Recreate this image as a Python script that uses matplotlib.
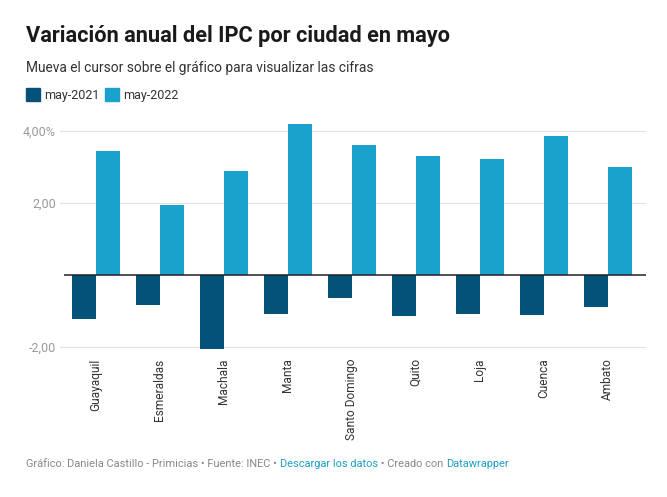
import matplotlib
matplotlib.use("Agg")
import matplotlib.pyplot as plt
from matplotlib.patches import Rectangle
import numpy as np

plt.rcParams['font.family'] = ['Roboto', 'DejaVu Sans']

cities = ["Guayaquil", "Esmeraldas", "Machala", "Manta", "Santo Domingo",
          "Quito", "Loja", "Cuenca", "Ambato"]
may_2021 = [-1.21, -0.82, -2.05, -1.07, -0.63, -1.14, -1.07, -1.10, -0.88]
may_2022 = [3.44, 1.94, 2.89, 4.19, 3.61, 3.31, 3.22, 3.86, 3.00]
yticks = [-2, 2, 4]
ytick_labels = ["-2,00", "2,00", "4,00%"]

dark = "#04527a"
light = "#1ba2cc"

W, H = 667, 497
fig = plt.figure(figsize=(W / 100, H / 100), dpi=100)
fig.patch.set_facecolor("white")

# axes box in pixels: x 60..646, y 120..350
ax = fig.add_axes([60 / W, 1 - 350 / H, 586 / W, 230 / H])

x = np.arange(len(cities))
bw = 0.375
ax.bar(x - bw / 2, may_2021, width=bw, color=dark, zorder=3)
ax.bar(x + bw / 2, may_2022, width=bw, color=light, zorder=3)

ax.set_xlim(-0.56, 8.6)
ax.set_ylim(-2.083, 4.306)

for t in yticks:
    ax.axhline(t, color="#e3e3e3", lw=0.9, zorder=1)
ax.hlines(0, -0.5, 8.6, color="#222222", lw=1.1, zorder=4)

ax.set_yticks(yticks)
ax.set_yticklabels(ytick_labels)
ax.tick_params(axis="y", length=0, pad=3, labelsize=9, labelcolor="#9a9a9a")

ax.set_xticks(x)
ax.set_xticklabels(cities, rotation=90, va="top", ha="center")
ax.tick_params(axis="x", length=0, pad=6, labelsize=8.6, labelcolor="#333333")

for s in ax.spines.values():
    s.set_visible(False)

# title, subtitle
fig.text(26 / W, 1 - 36 / H, "Variación anual del IPC por ciudad en mayo",
         fontsize=15.7, fontweight="bold", color="#1a1a1a", va="center")
fig.text(26 / W, 1 - 68 / H, "Mueva el cursor sobre el gráfico para visualizar las cifras",
         fontsize=9.9, color="#333333", va="center")

# legend
for lx, col, lab in [(26, dark, "may-2021"), (105, light, "may-2022")]:
    fig.patches.append(Rectangle((lx / W, 1 - 101 / H), 14 / W, 13 / H,
                                 transform=fig.transFigure, color=col))
    fig.text((lx + 18) / W, 1 - 95 / H, lab, fontsize=9, color="#333333", va="center")

# footer, pieces laid out one after another
parts = [("Gráfico: Daniela Castillo - Primicias • Fuente: INEC • ", "#888888"),
         ("Descargar los datos", "#1d9fc4"),
         (" • Creado con ", "#888888"),
         ("Datawrapper", "#1d9fc4")]
fig.canvas.draw()
r = fig.canvas.get_renderer()
xpos = 26 / W
for txt, col in parts:
    t = fig.text(xpos, 1 - 464 / H, txt, fontsize=7.95, color=col, va="center")
    xpos += t.get_window_extent(renderer=r).width / W

fig.savefig("out.png", dpi=100)
